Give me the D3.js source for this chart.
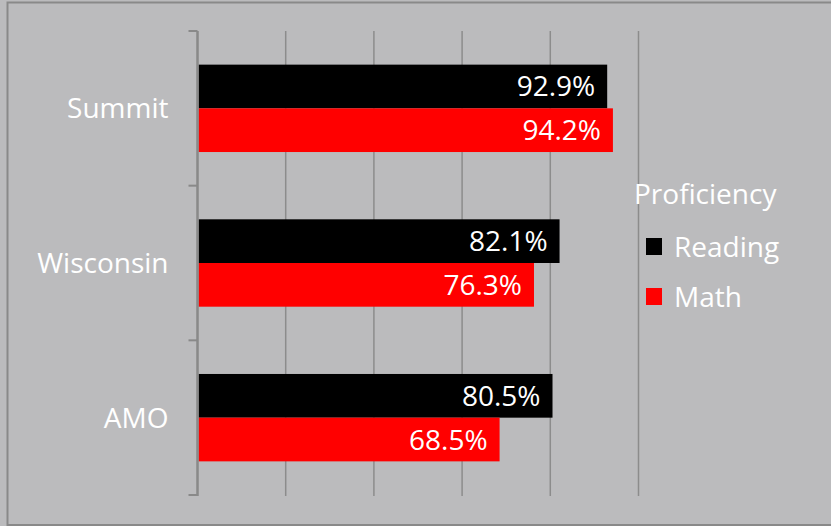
<!DOCTYPE html>
<html>
<head>
<meta charset="utf-8">
<script src="https://cdn.jsdelivr.net/npm/d3@7"></script>
<style>
  body { margin: 0; background: #bbbbbd; }
  text { font-family: "Open Sans", "Noto Sans", sans-serif; fill: #ffffff; }
</style>
</head>
<body>
<svg width="831" height="526"></svg>
<script>
// data
var categories = ["Summit", "Wisconsin", "AMO"];
var series = ["Reading", "Math"];
var reading = [92.9, 82.1, 80.5];
var math = [94.2, 76.3, 68.5];
var xTicks = [0, 20, 40, 60, 80, 100];

var colors = d3.scaleOrdinal()
  .domain(series)
  .range(["#000000", "#ff0000"]);

var svg = d3.select("svg"),
  width = +svg.attr("width"),
  height = +svg.attr("height");

svg.append("rect")
  .attr("width", width)
  .attr("height", height)
  .attr("fill", "#bbbbbd");

// chart border
svg.append("rect")
  .attr("x", 7.5)
  .attr("y", 2.5)
  .attr("width", 840)
  .attr("height", 522.5)
  .attr("fill", "none")
  .attr("stroke", "#898989")
  .attr("stroke-width", 2);

var x = d3.scaleLinear()
  .domain([0, 100])
  .range([197.5, 638.5]);

var y = d3.scaleBand()
  .domain(categories)
  .range([31, 495]);

var inner = d3.scaleBand()
  .domain(series)
  .range([0, y.bandwidth()])
  .paddingOuter(0.77)
  .paddingInner(0);

// gridlines
svg.append("g")
  .selectAll("line")
  .data(xTicks.slice(1))
  .enter().append("line")
  .attr("x1", function(d) { return x(d); })
  .attr("x2", function(d) { return x(d); })
  .attr("y1", 31)
  .attr("y2", 496)
  .attr("stroke", "#8c8c8c")
  .attr("stroke-width", 1.5);

var rows = categories.map(function(c, i) {
  return { cat: c, values: [
    { key: "Reading", v: reading[i] },
    { key: "Math", v: math[i] }
  ]};
});

var group = svg.append("g")
  .selectAll("g")
  .data(rows)
  .enter().append("g")
  .attr("transform", function(d) { return "translate(0," + y(d.cat) + ")"; });

group.selectAll("rect")
  .data(function(d) { return d.values; })
  .enter().append("rect")
  .attr("x", x(0) + 1)
  .attr("y", function(d) { return inner(d.key); })
  .attr("width", function(d) { return x(d.v) - x(0) - 1; })
  .attr("height", inner.bandwidth())
  .attr("fill", function(d) { return colors(d.key); });

group.selectAll("text.val")
  .data(function(d) { return d.values; })
  .enter().append("text")
  .attr("class", "val")
  .attr("x", function(d) { return x(d.v) - 12; })
  .attr("y", function(d) { return inner(d.key) + inner.bandwidth() / 2 + 10; })
  .attr("text-anchor", "end")
  .style("font-size", "28px")
  .text(function(d) { return d.v.toFixed(1) + "%"; });

// y axis
var yAxis = svg.append("g")
  .attr("transform", "translate(" + x(0) + ",0)");

yAxis.append("line")
  .attr("x1", 0).attr("x2", 0)
  .attr("y1", 31).attr("y2", 496)
  .attr("stroke", "#898989")
  .attr("stroke-width", 2.5);

var boundaries = categories.map(function(c) { return y(c); }).concat([y.range()[1]]);
yAxis.selectAll("line.tick")
  .data(boundaries)
  .enter().append("line")
  .attr("class", "tick")
  .attr("x1", -9).attr("x2", 0)
  .attr("y1", function(d) { return d; })
  .attr("y2", function(d) { return d; })
  .attr("stroke", "#898989")
  .attr("stroke-width", 2);

yAxis.selectAll("text")
  .data(categories)
  .enter().append("text")
  .attr("x", -29)
  .attr("y", function(d) { return y(d) + y.bandwidth() / 2 + 10; })
  .attr("text-anchor", "end")
  .style("font-size", "28px")
  .text(function(d) { return d; });

// legend
var legend = svg.append("g")
  .attr("transform", "translate(634,204)");

legend.append("text")
  .attr("x", 0)
  .attr("y", 0)
  .style("font-size", "28px")
  .text("Proficiency");

var item = legend.selectAll("g")
  .data(series)
  .enter().append("g")
  .attr("transform", function(d, i) { return "translate(0," + (53 + i * 50) + ")"; });

item.append("rect")
  .attr("x", 12)
  .attr("y", -19)
  .attr("width", 16)
  .attr("height", 17)
  .attr("fill", function(d) { return colors(d); });

item.append("text")
  .attr("x", 40)
  .attr("y", 0)
  .style("font-size", "28px")
  .text(function(d) { return d; });
</script>
</body>
</html>
